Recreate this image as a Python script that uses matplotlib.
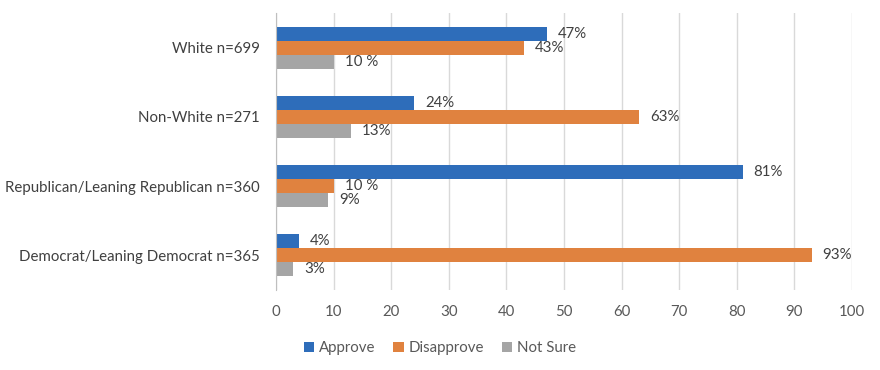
import matplotlib

matplotlib.use("Agg")
import matplotlib.pyplot as plt
import numpy as np

# top-to-bottom order as shown in the chart
groups = [
    "White n=699",
    "Non-White n=271",
    "Republican/Leaning Republican n=360",
    "Democrat/Leaning Democrat n=365",
]
series = ["Approve", "Disapprove", "Not Sure"]
approve = [47, 24, 81, 4]
disapprove = [43, 63, 10, 93]
not_sure = [10, 13, 9, 3]
approve_labels = ["47%", "24%", "81%", "4%"]
disapprove_labels = ["43%", "63%", "10 %", "93%"]
not_sure_labels = ["10 %", "13%", "9%", "3%"]
xticks = list(range(0, 101, 10))

colors = ["#2E6DBA", "#E0823F", "#A5A5A5"]
text_color = "#404040"

plt.rcParams["font.family"] = ["Lato", "DejaVu Sans"]

fig = plt.figure(figsize=(8.8, 3.7), dpi=100)
ax = fig.add_axes([276 / 880, 1 - 290 / 370, 576 / 880, 277 / 370])

y = np.arange(len(groups))
h = 0.203
values = [approve, disapprove, not_sure]
labels = [approve_labels, disapprove_labels, not_sure_labels]
for i, (name, vals, labs, col) in enumerate(zip(series, values, labels, colors)):
    pos = y + (i - 1) * h
    ax.barh(pos, vals, height=h, color=col, label=name, zorder=3)
    for p, v, lab in zip(pos, vals, labs):
        ax.text(v + 1.9, p, lab, va="center", ha="left", fontsize=10.8, color=text_color)

ax.set_ylim(len(groups) - 0.5, -0.5)
ax.set_xlim(0, 100)
ax.set_yticks(y)
ax.set_yticklabels(groups, fontsize=10.8, color=text_color)
ax.set_xticks(xticks)
ax.set_xticklabels([str(t) for t in xticks], fontsize=10.8, color="#595959")
ax.tick_params(axis="y", length=0, pad=11.5)
ax.tick_params(axis="x", length=0, pad=11)
ax.grid(axis="x", color="#D9D9D9", linewidth=1, zorder=0)
for side in ["top", "right", "bottom"]:
    ax.spines[side].set_visible(False)
ax.spines["left"].set_color("#BFBFBF")
ax.spines["left"].set_zorder(4)

fig.legend(
    loc="center",
    bbox_to_anchor=(440 / 880, 1 - 348 / 370),
    ncol=3,
    frameon=False,
    fontsize=10.8,
    handlelength=0.7,
    handleheight=0.7,
    handletextpad=0.3,
    columnspacing=1.2,
    labelcolor="#595959",
)

fig.savefig("out.png", dpi=100)
